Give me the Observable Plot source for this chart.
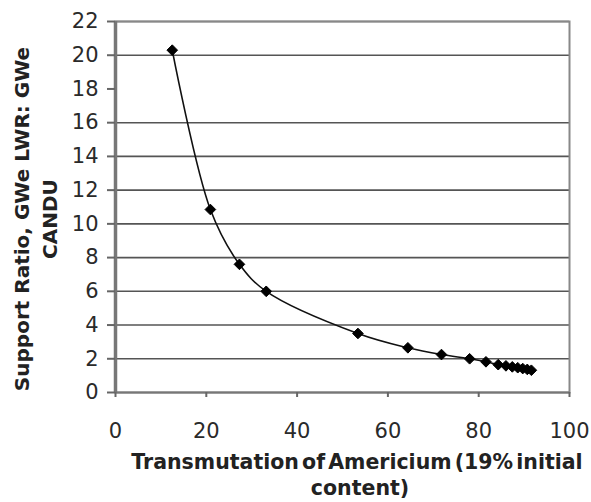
<!DOCTYPE html>
<html>
<head>
<meta charset="utf-8">
<script src="https://cdn.jsdelivr.net/npm/d3@7"></script>
<script src="https://cdn.jsdelivr.net/npm/@observablehq/plot@0.6"></script>
<style>
  html, body { margin: 0; padding: 0; background: #fff; }
  #chart { width: 591px; height: 502px; overflow: hidden; }
  svg { font-family: "DejaVu Sans", sans-serif; }
</style>
</head>
<body>
<div id="chart"></div>
<script>
// Data
const transmutation = [12.5, 20.9, 27.3, 33.2, 53.4, 64.4, 71.8, 78.0, 81.6, 84.3, 86.0, 87.4, 88.6, 89.7, 90.7, 91.6];
const supportRatio  = [20.3, 10.85, 7.6, 6.0, 3.5, 2.65, 2.25, 2.0, 1.82, 1.65, 1.58, 1.52, 1.47, 1.42, 1.37, 1.32];
const xTicks = [0, 20, 40, 60, 80, 100];
const yTicks = [0, 2, 4, 6, 8, 10, 12, 14, 16, 18, 20, 22];
const yGridLines = [2, 4, 6, 8, 10, 12, 14, 16, 20, 22];
const yTitleLines = ["Support Ratio, GWe LWR: GWe", "CANDU"];
const xTitleLines = ["Transmutation of Americium (19% initial", "content)"];

const data = transmutation.map((x, i) => ({x, y: supportRatio[i]}));

const plot = Plot.plot({
  width: 591,
  height: 502,
  marginLeft: 115,
  marginRight: 22,
  marginTop: 21,
  marginBottom: 110,
  style: {fontFamily: "'DejaVu Sans', sans-serif", fontSize: "21px", color: "#222", background: "#fff"},
  x: {domain: [0, 100], ticks: xTicks},
  y: {domain: [0, 22], ticks: yTicks},
  marks: [
    Plot.ruleY(yGridLines, {stroke: "#555", strokeWidth: 1.6}),
    Plot.frame({stroke: "#888", strokeWidth: 2}),
    Plot.ruleX([0], {stroke: "#777", strokeWidth: 3.5}),
    Plot.ruleY([0], {stroke: "#777", strokeWidth: 2}),
    Plot.axisX({ticks: xTicks, tickSize: 5, tickPadding: 26, stroke: "#666", strokeWidth: 2, fontSize: 21, label: null, fill: "#2a2a2a"}),
    Plot.axisY({ticks: yTicks, tickSize: 8, tickPadding: 9, stroke: "#666", strokeWidth: 2, fontSize: 21, label: null, fill: "#2a2a2a"}),
    Plot.line(data, {x: "x", y: "y", curve: "catmull-rom", stroke: "#111", strokeWidth: 1.6}),
    Plot.dot(data, {x: "x", y: "y", symbol: "diamond2", r: 4.8, fill: "#000", stroke: "#000", strokeWidth: 1})
  ]
});

const svg = d3.select(plot);
// Y axis title (two rotated lines)
const yt = svg.append("text")
  .attr("transform", "translate(22,219) rotate(-90)")
  .attr("text-anchor", "middle")
  .attr("font-weight", "bold")
  .attr("font-size", 20)
  .attr("fill", "#222");
yt.append("tspan").attr("x", 0).attr("dy", "0.35em").text(yTitleLines[0]);
yt.append("tspan").attr("x", 0).attr("dy", "28").text(yTitleLines[1]);

// X axis title (two lines)
const xt = svg.append("text")
  .attr("text-anchor", "middle")
  .attr("font-weight", "bold")
  .attr("font-size", 20.5)
  .attr("word-spacing", "-4")
  .attr("fill", "#222");
xt.append("tspan").attr("x", 357).attr("y", 469).text(xTitleLines[0]);
xt.append("tspan").attr("x", 360).attr("y", 495).text(xTitleLines[1]);

document.getElementById("chart").appendChild(plot);
</script>
</body>
</html>
